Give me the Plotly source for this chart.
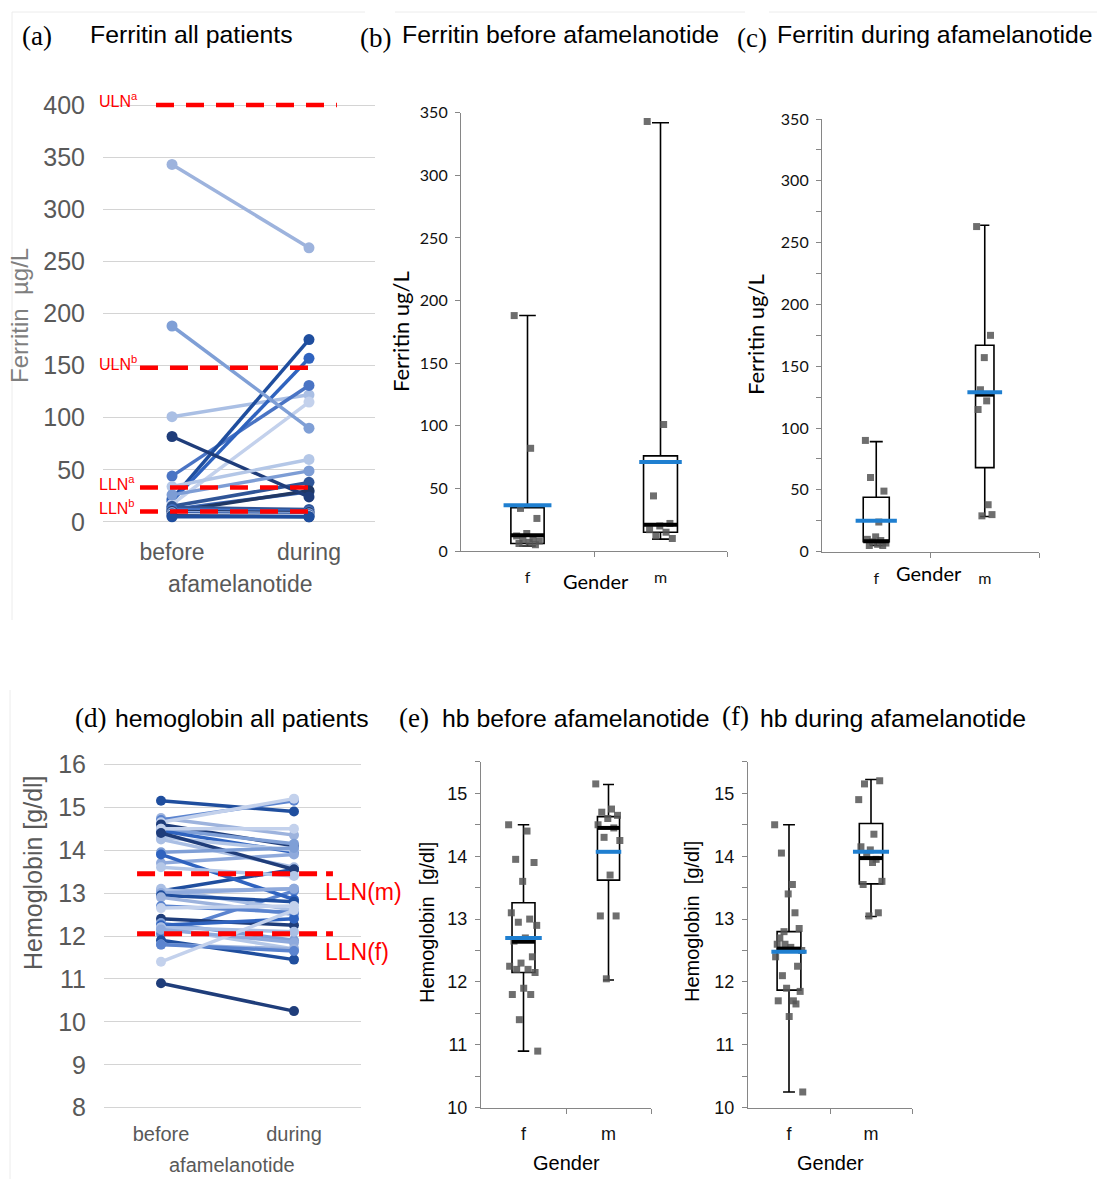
import plotly.graph_objects as go

W, H = 1097, 1179

# ---------------- data ----------------
periods = ["before", "during"]
genders = ["f", "m"]

# Ferritin (ug/L), paired per patient: before / during afamelanotide
fer_before_m = [343, 101, 44, 22, 20, 17, 15, 12, 10]
fer_during_m = [263, 122, 131, 175, 157, 115, 38, 29, 30]
fer_before_f = [188, 82, 34, 26, 14, 12, 10, 9, 8, 7, 6, 5]
fer_during_f = [90, 24, 60, 49, 12, 10, 9, 8, 7, 6, 5, 5]

# Hemoglobin (g/dl), paired per patient
hb_before_m = [15.15, 14.75, 14.7, 14.65, 14.6, 14.5, 14.45, 14.3, 14.25, 13.7, 13.05, 13.05, 12.05]
hb_during_m = [14.9, 14.35, 15.15, 15.2, 14.1, 14.15, 13.95, 14.0, 13.6, 13.9, 13.55, 13.1, 13.05]
hb_before_f = [14.5, 14.4, 13.95, 13.9, 13.6, 13.1, 13.0, 12.95, 12.9, 12.7, 12.65, 12.4,
               12.3, 12.25, 12.2, 12.2, 12.15, 11.9, 11.8, 11.8, 11.4, 10.9]
hb_during_f = [14.5, 13.55, 14.05, 12.85, 13.4, 12.6, 13.1, 12.8, 12.5, 12.55, 12.7, 12.25,
               11.9, 12.4, 11.7, 12.1, 11.85, 11.45, 11.7, 11.65, 12.6, 10.25]

# reference limits
fer_ref_names = ["ULN<sup>a</sup>", "ULN<sup>b</sup>", "LLN<sup>a</sup>", "LLN<sup>b</sup>"]
fer_ref_values = [400, 148, 33, 10]
hb_ref_names = ["LLN(m)", "LLN(f)"]
hb_ref_values = [13.45, 12.05]

# box statistics  [f, m]
fer_before_q1 = [6, 15]
fer_before_median = [12.5, 21]
fer_before_q3 = [34.5, 76]
fer_before_lo = [4, 9.5]
fer_before_hi = [188, 342]
fer_before_mean = [36.5, 71]

fer_during_q1 = [8, 68]
fer_during_median = [8.5, 127]
fer_during_q3 = [44, 167]
fer_during_lo = [5, 28.5]
fer_during_hi = [89, 264]
fer_during_mean = [25, 129]

hb_before_q1 = [12.15, 13.62]
hb_before_median = [12.64, 14.45]
hb_before_q3 = [13.26, 14.63]
hb_before_lo = [10.9, 12.03]
hb_before_hi = [14.5, 15.14]
hb_before_mean = [12.7, 14.07]

hb_during_q1 = [11.87, 13.56]
hb_during_median = [12.53, 13.97]
hb_during_q3 = [12.8, 14.52]
hb_during_lo = [10.25, 13.04]
hb_during_hi = [14.5, 15.22]
hb_during_mean = [12.48, 14.07]

# ---------------- styles ----------------
SANS = "Liberation Sans, Arial, sans-serif"
SERIF = "Liberation Serif, Times New Roman, serif"
CAL = "Lato, Carlito, Calibri, sans-serif"
GRAY_TXT = "#595959"
AXC = "#868686"
RED = "#ff0000"
MEAN_BLUE = "#1f7fd0"
PT_COL = "rgba(85,85,85,0.85)"

fer_colors = ["#9db3dd", "#aabfe4", "#4a74c4", "#1f4e9e", "#2f63bf", "#c3d1ec", "#2f5597", "#3a66b8", "#203864",
              "#7f9fd6", "#1f3d7a", "#b4c7e7", "#7d9dd5", "#2f5597", "#4472c4", "#203864", "#8faadc", "#335aa1",
              "#c9d6ee", "#264478", "#1f4e9e"]
hb_palette = ["#1f4e9e", "#9db3dd", "#5b84cf", "#c3d1ec", "#1f3d7a", "#7f9fd6", "#2f63bf", "#b4c7e7",
              "#aabfe4", "#8faadc"]


def dx(x0, x1):
    return [x0 / W, x1 / W]


def dy(top, bot):
    return [1 - bot / H, 1 - top / H]


def px(x):
    return x / W


def py(y):
    return 1 - y / H


fig = go.Figure()

# ---------- (a) ferritin paired lines ----------
fb = fer_before_m + fer_before_f
fd = fer_during_m + fer_during_f
for i, (b, d) in enumerate(zip(fb, fd)):
    c = fer_colors[i % len(fer_colors)]
    fig.add_trace(go.Scatter(x=periods, y=[b, d], mode="lines+markers",
                             line=dict(color=c, width=3.5), marker=dict(size=11, color=c),
                             xaxis="x", yaxis="y", cliponaxis=False, hoverinfo="skip"))

# ---------- (d) hemoglobin paired lines ----------
hbb = hb_before_m + hb_before_f
hbd = hb_during_m + hb_during_f
for i, (b, d) in enumerate(zip(hbb, hbd)):
    c = hb_palette[i % len(hb_palette)]
    fig.add_trace(go.Scatter(x=periods, y=[b, d], mode="lines+markers",
                             line=dict(color=c, width=3.5), marker=dict(size=10, color=c),
                             xaxis="x4", yaxis="y4", cliponaxis=False, hoverinfo="skip"))


def spread(n, width):
    return [((k * 0.6180339887) % 1.0 - 0.5) * width for k in range(n)]


def box_panel(xa, ya, q1, med, q3, lo, hi, mean, pts, box_w, mean_w, pt_spread):
    for g in range(2):
        fig.add_trace(go.Box(x=[g], q1=[q1[g]], median=[med[g]], q3=[q3[g]],
                             lowerfence=[lo[g]], upperfence=[hi[g]], width=box_w[g],
                             line=dict(color="black", width=1.6), fillcolor="rgba(255,255,255,0)",
                             whiskerwidth=0.5, boxpoints=False, xaxis=xa, yaxis=ya,
                             hoverinfo="skip"))
    for g in range(2):
        vals = pts[g]
        offs = spread(len(vals), pt_spread[g])
        fig.add_trace(go.Scatter(x=[g + o for o in offs], y=vals, mode="markers",
                                 marker=dict(symbol="square", size=7, color=PT_COL),
                                 xaxis=xa, yaxis=ya, hoverinfo="skip", cliponaxis=False))
    for g in range(2):
        fig.add_trace(go.Scatter(x=[g - box_w[g] / 2, g + box_w[g] / 2], y=[med[g], med[g]],
                                 mode="lines", line=dict(color="black", width=4),
                                 xaxis=xa, yaxis=ya, hoverinfo="skip"))
        fig.add_trace(go.Scatter(x=[g - mean_w[g] / 2, g + mean_w[g] / 2], y=[mean[g], mean[g]],
                                 mode="lines", line=dict(color=MEAN_BLUE, width=4),
                                 xaxis=xa, yaxis=ya, hoverinfo="skip"))


box_panel("x2", "y2", fer_before_q1, fer_before_median, fer_before_q3, fer_before_lo, fer_before_hi,
          fer_before_mean, [fer_before_f, fer_before_m], [0.25, 0.255], [0.36, 0.32], [0.2, 0.2])
box_panel("x3", "y3", fer_during_q1, fer_during_median, fer_during_q3, fer_during_lo, fer_during_hi,
          fer_during_mean, [fer_during_f, fer_during_m], [0.24, 0.17], [0.38, 0.32], [0.2, 0.15])
box_panel("x5", "y5", hb_before_q1, hb_before_median, hb_before_q3, hb_before_lo, hb_before_hi,
          hb_before_mean, [hb_before_f, hb_before_m], [0.27, 0.26], [0.43, 0.3], [0.35, 0.3])
box_panel("x6", "y6", hb_during_q1, hb_during_median, hb_during_q3, hb_during_lo, hb_during_hi,
          hb_during_mean, [hb_during_f, hb_during_m], [0.29, 0.285], [0.43, 0.44], [0.35, 0.3])

# ---------------- axes ----------------
common_line = dict(zeroline=False, showgrid=False, automargin=False)

lay = dict(
    template="none",
    width=W, height=H, margin=dict(l=0, r=0, t=0, b=0, pad=0, autoexpand=False),
    paper_bgcolor="white", plot_bgcolor="white", showlegend=False,
    # (a)
    xaxis=dict(domain=dx(103, 375), range=[-0.504, 1.482], type="category", ticks="",
               tickfont=dict(family=SANS, size=23, color=GRAY_TXT), anchor="y",
               showline=False, ticklabelstandoff=4, **common_line),
    yaxis=dict(domain=dy(94.6, 532.4), range=[-10, 410], tick0=0, dtick=50, anchor="x", ticks="",
               showgrid=True, gridcolor="#d4d4d4", gridwidth=1, zeroline=False, showline=False,
               automargin=False,
               tickfont=dict(family=SANS, size=25, color=GRAY_TXT), ticklabelstandoff=17),
    # (d)
    xaxis4=dict(domain=dx(104, 361), range=[-0.4286, 1.504], type="category", ticks="",
                tickfont=dict(family=SANS, size=20, color=GRAY_TXT), anchor="y4",
                showline=False, ticklabelstandoff=8, **common_line),
    yaxis4=dict(domain=dy(760, 1112), range=[7.9, 16.1], tick0=8, dtick=1, anchor="x4", ticks="",
                showgrid=True, gridcolor="#d4d4d4", gridwidth=1, zeroline=False, showline=False,
                automargin=False,
                tickfont=dict(family=SANS, size=25, color=GRAY_TXT), ticklabelstandoff=17),
)


def box_axes(n, xdom, ydom, yrange, dtick, minor_dtick, fam, tsize, xsize, xstand):
    xa = dict(domain=xdom, range=[-0.5, 1.5], tickmode="array", tickvals=[0, 1], ticktext=genders,
              ticks="", showline=True, linecolor=AXC, linewidth=1.2, anchor="y%d" % n,
              tickfont=dict(family=fam, size=xsize, color="#111"), ticklabelstandoff=xstand,
              minor=dict(tickmode="array", tickvals=[0.5, 1.5], ticks="outside", ticklen=5,
                         tickcolor=AXC, tickwidth=1.2),
              **common_line)
    ya = dict(domain=ydom, range=yrange, tick0=yrange[0], dtick=dtick, ticks="outside", ticklen=5,
              tickcolor=AXC, tickwidth=1.2, showline=True, linecolor=AXC, linewidth=1.2,
              anchor="x%d" % n, tickfont=dict(family=fam, size=tsize, color="#111"),
              ticklabelstandoff=4, **common_line)
    if minor_dtick:
        ya["minor"] = dict(dtick=minor_dtick, ticks="outside", ticklen=5, tickcolor=AXC, tickwidth=1.2)
    lay["xaxis%d" % n] = xa
    lay["yaxis%d" % n] = ya


box_axes(2, dx(461, 727), dy(112.7, 551), [0, 350], 50, None, CAL, 16, 16, 12)
box_axes(3, dx(822, 1039), dy(119, 551.7), [0, 350], 50, 25, CAL, 16, 16, 12)
box_axes(5, dx(481, 651), dy(761.9, 1107.7), [10, 15.5], 1, 0.5, SANS, 18, 18, 10)
box_axes(6, dx(748, 912), dy(761.9, 1107.7), [10, 15.5], 1, 0.5, SANS, 18, 18, 10)

fig.update_layout(**lay)

# ---------------- reference lines ----------------
shapes = []
fer_ref_extent = [(-0.117, 1.204), (-0.234, 1.08), (-0.234, 1.08), (-0.234, 1.08)]
for v, (a0, a1) in zip(fer_ref_values, fer_ref_extent):
    shapes.append(dict(type="line", xref="x", yref="y", x0=a0, x1=a1, y0=v, y1=v,
                       line=dict(color=RED, width=4.5, dash="18px,12px")))
for v in hb_ref_values:
    shapes.append(dict(type="line", xref="x4", yref="y4", x0=-0.18, x1=1.293, y0=v, y1=v,
                       line=dict(color=RED, width=5, dash="18px,9px")))

# faint frame lines of the original chart areas
for (x0, x1) in [(12, 365), (395, 745), (769, 1097)]:
    shapes.append(dict(type="line", xref="paper", yref="paper", x0=px(x0), x1=px(x1), y0=py(12), y1=py(12),
                       line=dict(color="#ececec", width=1)))
shapes.append(dict(type="line", xref="paper", yref="paper", x0=px(12), x1=px(12), y0=py(12), y1=py(620),
                   line=dict(color="#ececec", width=1)))
shapes.append(dict(type="line", xref="paper", yref="paper", x0=px(10), x1=px(10), y0=py(690), y1=py(1179),
                   line=dict(color="#ececec", width=1)))
fig.update_layout(shapes=shapes)

# ---------------- text ----------------
ann = []


def text(x, y, s, size, family=SANS, color="black", xanchor="left", angle=0, yanchor="middle"):
    ann.append(dict(xref="paper", yref="paper", x=px(x), y=py(y), text=s, showarrow=False,
                    xanchor=xanchor, yanchor=yanchor, textangle=angle,
                    font=dict(family=family, size=size, color=color)))


# panel titles
titles = [("(a)", 20, 36, "Ferritin all patients", 88, 34),
          ("(b)", 358, 38, "Ferritin before afamelanotide", 400, 34),
          ("(c)", 735, 38, "Ferritin during afamelanotide", 775, 34),
          ("(d)", 73, 718, "hemoglobin all patients", 113, 718),
          ("(e)", 397, 718, "hb before afamelanotide", 440, 718),
          ("(f)", 720, 716, "hb during afamelanotide", 758, 718)]
for lab, lx, ly, t, tx, ty in titles:
    text(lx, ly, lab, 27, SERIF)
    text(tx, ty, t, 24.8, SANS)

# axis titles
text(20, 316, "Ferritin\u00a0 µg/L", 24, SANS, "#7f7f7f", "center", -90)
text(240, 584, "afamelanotide", 23, SANS, GRAY_TXT, "center")
text(400, 332, "Ferritin ug/L", 22, CAL, "black", "center", -90)
text(596, 581, "Gender", 20, CAL, "black", "center")
text(755, 335, "Ferritin ug/L", 22, CAL, "black", "center", -90)
text(929, 573, "Gender", 20, CAL, "black", "center")
text(33, 873, "Hemoglobin [g/dl]", 25, SANS, GRAY_TXT, "center", -90)
text(232, 1165, "afamelanotide", 20, SANS, GRAY_TXT, "center")
text(427, 922, "Hemoglobin\u00a0 [g/dl]", 20, SANS, "black", "center", -90)
text(566, 1163, "Gender", 20, SANS, "black", "center")
text(692, 922, "Hemoglobin\u00a0 [g/dl]", 20, SANS, "black", "center", -90)
text(830, 1163, "Gender", 20, SANS, "black", "center")

# reference line labels
for name, v in zip(fer_ref_names, fer_ref_values):
    ann.append(dict(xref="paper", yref="y", x=px(97), y=v, text=name, showarrow=False,
                    xanchor="left", yanchor="middle", yshift=5,
                    font=dict(family=SANS, size=16, color=RED)))
for name, v in zip(hb_ref_names, hb_ref_values):
    ann.append(dict(xref="paper", yref="y4", x=px(323), y=v, text=name, showarrow=False,
                    xanchor="left", yanchor="middle", yshift=-18,
                    font=dict(family=SANS, size=23, color=RED)))

fig.update_layout(annotations=ann)

fig.write_html("out.html", config={"displayModeBar": False},
               post_script="document.body.style.margin='0px';document.body.style.padding='0px';"
                           "document.body.style.overflow='hidden';")
